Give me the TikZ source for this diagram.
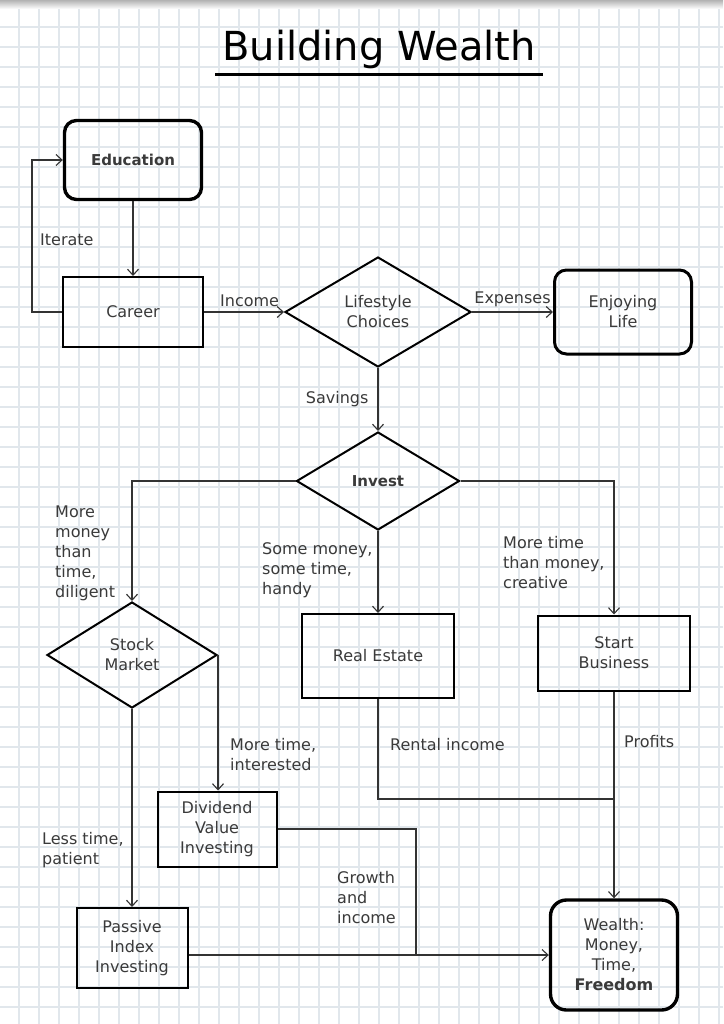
\documentclass[tikz,border=0pt]{standalone}
\usepackage{fontspec}
\setmainfont{DejaVu Sans}
\usepackage{tikz}
\usetikzlibrary{arrows.meta, calc}
\usetikzlibrary{shapes.geometric, positioning}
\definecolor{ink}{HTML}{3A3A3A}
\definecolor{wire}{HTML}{333333}
\definecolor{gridline}{HTML}{E1E7EC}
\tikzset{
	-{Straight Barb[length=6pt,width=11pt]},
	txt/.style = {font=\fontsize{16}{20}\selectfont, text=ink},
	box/.style = {rectangle, draw=black, line width=2pt, align=center, txt},
	goal/.style = {box, rounded corners=12pt, line width=3.4pt},
	choice/.style = {diamond, draw=black, line width=2pt, aspect=1.7, inner sep=0pt, align=center, txt},
	flow/.style = {draw=wire, line width=1.1pt},
	el/.style = {inner sep=0pt, align=left, txt},
	paper/.style = {-, draw=gridline, line width=1.3pt}
}

\begin{document}
\begin{tikzpicture}[x=1pt, y=-1pt]
	\useasboundingbox (0,0) rectangle (723,1024);
	\fill[white] (0,0) rectangle (723,1024);
	% Grid paper
	\foreach \gx in {19,39,...,719} \draw[paper] (\gx,0) -- (\gx,1024);
	\foreach \gy in {7,27,...,1023} \draw[paper] (0,\gy) -- (723,\gy);
	\shade[top color=gray!60, bottom color=white] (0,0) rectangle (723,9);

	% Title
	\node[font=\fontsize{40}{48}\selectfont] (title) at (379,49) {Building Wealth};
	\draw[-, line width=3pt] (215,75) -- (543,75);

	\node[goal, minimum width=137pt, minimum height=79pt, font=\fontsize{15}{20}\selectfont\bfseries] (edu) at (133,160) {Education};
	\node[box, minimum width=140pt, minimum height=70pt] (career) at (133,312) {Career};
	\node[choice, minimum width=186pt, minimum height=110pt] (life) at (378,312) {Lifestyle\\Choices};
	\node[goal, minimum width=137pt, minimum height=84pt, line width=3pt] (joy) at (623,312) {Enjoying\\Life};
	\node[choice, minimum width=163pt, minimum height=98pt, font=\fontsize{15}{20}\selectfont\bfseries] (invest) at (378,481) {Invest};
	\node[choice, minimum width=170pt, minimum height=106pt] (stock) at (132,655) {Stock\\Market};
	\node[box, minimum width=152pt, minimum height=84pt] (real) at (378,656) {Real Estate};
	\node[box, minimum width=152pt, minimum height=75pt] (biz) at (614,653) {Start\\Business};
	\node[box, minimum width=119pt, minimum height=75pt] (div) at (217,829) {Dividend\\Value\\Investing};
	\node[box, minimum width=111pt, minimum height=80pt] (passive) at (132,948) {Passive\\Index\\Investing};
	\node[goal, minimum width=127pt, minimum height=110pt, rounded corners=16pt] (wealth) at (614,955) {Wealth:\\Money,\\Time,\\\textbf{Freedom}};

	\coordinate (rj) at (614,799);
	\coordinate (gj) at (416,955);

	% Directed edges
	\path[flow] (edu) edge (career);
	\draw[flow] (career.west) -- ++(-30,0) |- (edu.west);
	\path[flow] (career) edge node[el, above=5pt, pos=0.57] {Income} (life);
	\path[flow] (life) edge node[el, above=5pt] {Expenses} (joy);
	\path[flow] (life) edge node[el, left=9pt] {Savings} (invest);
	\draw[flow] (invest.west) -| (stock.north);
	\path[flow] (invest) edge (real);
	\draw[flow] (invest.east) -| (biz.north);
	\draw[flow] (stock.east) -- (stock.east |- div.north);
	\path[flow] (stock) edge (passive);
	\draw[flow, -] (real.south) |- (rj);
	\path[flow] (biz) edge (wealth);
	\draw[flow, -] (div.east) -| (gj);
	\draw[flow] (passive.east |- wealth.west) -- (wealth.west);

	% Labels
	\node[el, anchor=west] (l-iter) at (40,240) {Iterate};
	\node[el, anchor=west] (l-stock) at (55,553) {More\\money\\than\\time,\\diligent};
	\node[el, anchor=west] (l-real) at (262,570) {Some money,\\some time,\\handy};
	\node[el, anchor=west] (l-biz) at (503,563) {More time\\than money,\\creative};
	\node[el, anchor=west] (l-div) at (230,755) {More time,\\interested};
	\node[el, anchor=west] (l-rent) at (390,745) {Rental income};
	\node[el, anchor=west] (l-prof) at (624,742) {Profits};
	\node[el, anchor=west] (l-pass) at (42,850) {Less time,\\patient};
	\node[el, anchor=west] (l-grow) at (337,898) {Growth\\and\\income};
\end{tikzpicture}
\end{document}
